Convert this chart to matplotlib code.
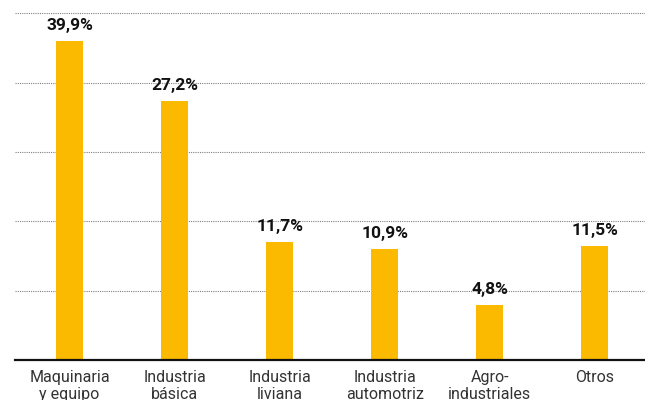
import matplotlib
matplotlib.use("Agg")
import matplotlib.pyplot as plt
from matplotlib import font_manager

categories = ["Maquinaria\ny equipo", "Industria\nbásica", "Industria\nliviana",
              "Industria\nautomotriz", "Agro-\nindustriales", "Otros"]
bar_heights = [46.0, 37.3, 17.0, 16.0, 7.9, 16.4]
value_labels = ["39,9%", "27,2%", "11,7%", "10,9%", "4,8%", "11,5%"]
grid_ticks = [10, 20, 30, 40, 50]

names = {f.name for f in font_manager.fontManager.ttflist}
narrow = "Liberation Sans Narrow" if "Liberation Sans Narrow" in names else "Roboto"

fig = plt.figure(figsize=(6.45, 4.0), dpi=100)
ax = fig.add_axes([15/645, 40/400, 630/645, 348/400])

x = list(range(len(categories)))
ax.bar(x, bar_heights, width=0.26, color="#FBBA00", zorder=3)

for xi, h, lab in zip(x, bar_heights, value_labels):
    ax.annotate(lab, (xi, h), xytext=(0, 6), textcoords="offset points",
                ha="center", va="bottom", fontsize=12.5, fontweight="bold",
                family=[narrow, "DejaVu Sans"], color="#111111")

ax.set_xlim(-0.52, 5.48)
ax.set_ylim(0, 50.2)
ax.set_yticks(grid_ticks)
ax.yaxis.grid(True, linestyle=(0, (1, 1)), color="#808080", linewidth=0.8, zorder=0)
ax.tick_params(axis="y", left=False, labelleft=False)
ax.set_xticks(x)
ax.set_xticklabels(categories, fontsize=11.5, color="#333333",
                   family=[narrow, "DejaVu Sans"], linespacing=1.2)
ax.tick_params(axis="x", length=0, pad=7)
for s in ["top", "right", "left"]:
    ax.spines[s].set_visible(False)
ax.spines["bottom"].set_color("#111111")
ax.spines["bottom"].set_linewidth(1.6)
ax.spines["bottom"].set_zorder(4)

fig.savefig("out.png", dpi=100)
